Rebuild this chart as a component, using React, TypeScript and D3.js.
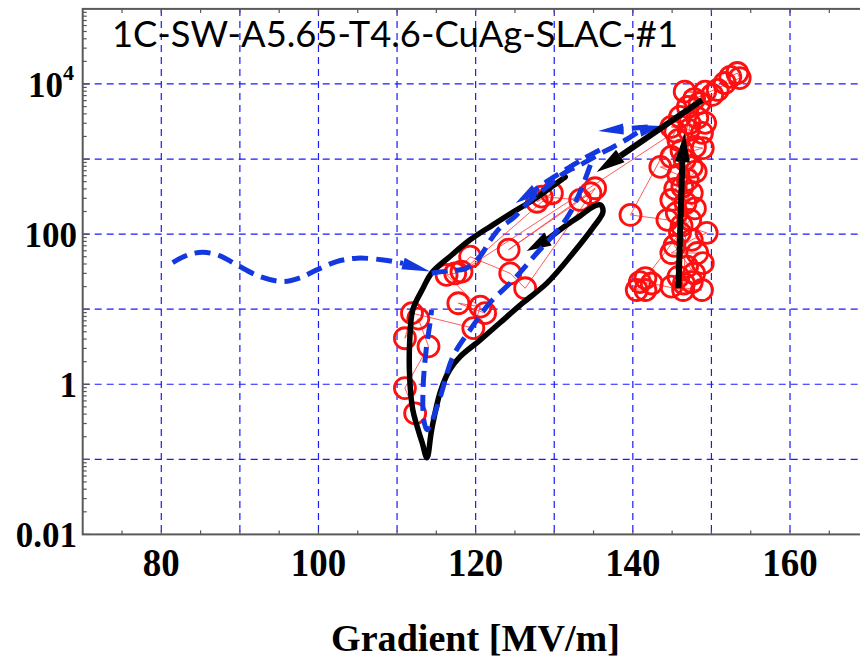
import React from 'react';
import * as d3 from 'd3';

const W = 860;
const H = 663;

const titleText = '1C-SW-A5.65-T4.6-CuAg-SLAC-#1';
const xAxisTitle = 'Gradient [MV/m]';
const xTickLabels = [80, 100, 120, 140, 160];
const xGridValues = [80, 90, 100, 110, 120, 130, 140, 150, 160, 170];
const xMinorTicks = [75, 85, 95, 105, 115, 125, 135, 145, 155, 165];
const yGridValues = [0.1, 1, 10, 100, 1000, 10000];
const yDecades = [0.01, 0.1, 1, 10, 100, 1000, 10000];
const yTickLabels: { v: number; base: string; sup?: string }[] = [
  { v: 10000, base: '10', sup: '4' },
  { v: 100, base: '100' },
  { v: 1, base: '1' },
  { v: 0.01, base: '0.01' },
];

// measured breakdown-rate points (gradient MV/m, rate)
const measured: [number, number][] = [
  [112.3, 0.41], [111.0, 0.89], [114.0, 3.2], [112.7, 7.5], [111.0, 4.1], [111.9, 8.85],
  [119.7, 5.6], [120.6, 10.8], [117.8, 12], [121.2, 8.85], [116.3, 28.6], [117.4, 30],
  [119.3, 50], [124.4, 30], [126.3, 19], [135.2, 408], [124.2, 62], [134.6, 350],
  [133.3, 285], [128.4, 316], [127.8, 270], [129.7, 350], [118.2, 31.6], [145.4, 2320],
  [139.7, 180], [144.4, 155], [149.4, 104], [147.5, 84], [144.9, 56], [148.2, 56],
  [146.9, 37], [148.9, 41], [145.8, 27], [147.5, 23], [144.9, 20], [148.8, 18],
  [146.4, 18], [142.4, 22], [140.9, 23], [141.6, 18], [140.5, 18], [141.6, 26],
  [146.0, 104], [147.3, 155], [144.9, 285], [146.7, 260], [145.6, 191], [147.5, 354],
  [146.3, 425], [147.0, 527], [145.8, 614], [143.5, 785], [147.5, 785], [146.6, 973],
  [144.9, 1070], [148.9, 1400], [147.9, 1450], [145.8, 1800], [148.8, 2230], [147.1, 2440],
  [144.9, 2680], [149.2, 3030], [148.2, 3530], [146.0, 3640], [147.0, 4940], [148.5, 5580],
  [149.2, 7900], [146.6, 7900], [150.1, 7140], [150.8, 8320], [151.7, 10300], [152.4, 12400],
  [153.3, 14000], [153.6, 12000], [147.8, 6300], [146.2, 1300], [148.0, 680], [145.4, 400],
  [147.9, 220], [146.2, 130], [145.3, 70], [147.8, 30], [146.5, 22], [147.2, 3000],
];

// black solid loop (ends in an arrow)
const blackLoop: [number, number][] = [
  [131.4, 578], [129.1, 388], [127.3, 285], [124.8, 198], [122.2, 133], [119.3, 84],
  [116.7, 50], [114.4, 30.4], [113.2, 18.1], [112.0, 9.8], [111.6, 3.56], [111.6, 1.26],
  [112.0, 0.456], [113.2, 0.166], [113.8, 0.105], [114.4, 0.247], [115.5, 0.79],
  [116.7, 1.56], [118.0, 2.32], [120.6, 3.9], [123.1, 6.6], [126.0, 12.1], [129.1, 22.4],
  [132.4, 56], [134.9, 121], [136.2, 198], [135.9, 245], [134.9, 230], [133.3, 175],
  [131.4, 128], [129.2, 86],
];
const blackLoopTip: [number, number] = [126.5, 59.7];

// black straight arrows [start, base, tip]
const blackArrowDiag: [number, number][] = [[148.8, 6120], [138.4, 1100], [135.4, 673]];
const blackArrowUp: [number, number][] = [[145.8, 19.0], [146.3, 915], [146.6, 2205]];

// blue dashed model curves
const blueWave: [number, number][] = [
  [81.45, 41.8], [83.4, 52.9], [85.35, 57.4], [87.47, 51.3], [89.6, 38.9], [92.56, 27.2],
  [95.53, 23.3], [97.65, 26.1], [99.78, 33.4], [102.3, 43.0], [104.9, 47.8], [108.25, 45.3],
  [110.76, 40.7],
];
const blueWaveTip: [number, number] = [114.2, 31.7];

const blueUp: [number, number][] = [
  [114.4, 30.4], [116.7, 32.4], [118.9, 35.5], [120.6, 51.3], [121.8, 81], [123.1, 121],
  [124.8, 164], [126.9, 277], [129.1, 425], [131.1, 634], [133.3, 834], [135.8, 1170],
  [137.5, 1450], [139.3, 1850], [140.9, 2370],
];
const blueUpTip: [number, number] = [143.6, 2760];

const blueBack: [number, number][] = [[141.9, 2680], [138.8, 2520]];
const blueBackTip: [number, number] = [135.6, 2370];

const blueReturn: [number, number][] = [
  [135.8, 1320], [133.9, 1035], [131.4, 716], [128.8, 481], [127.6, 388],
];
const blueReturnTip: [number, number] = [125.1, 260];

const blueDown: [number, number][] = [
  [134.6, 834], [133.9, 527], [133.0, 313], [132.0, 191], [130.7, 121], [127.8, 56],
  [124.8, 24.5], [121.8, 12.1], [119.3, 5.3], [117.1, 2.32], [115.5, 0.68], [114.3, 0.297],
  [113.8, 0.247], [113.4, 0.336], [113.3, 0.84], [113.7, 2.87], [114.2, 6.6], [114.4, 9.8],
];

const x = d3.scaleLinear().domain([70, 170]).range([82.7, 868.6]);
const y = d3.scaleLog().domain([0.01, 1e5]).range([534.4, 8.9]);

const smooth = d3
  .line<[number, number]>()
  .x((d) => x(d[0]))
  .y((d) => y(d[1]))
  .curve(d3.curveCatmullRom.alpha(0.5));
const straight = d3
  .line<[number, number]>()
  .x((d) => x(d[0]))
  .y((d) => y(d[1]));

function head(base: [number, number], tip: [number, number], w: number): string {
  const bx = x(base[0]);
  const by = y(base[1]);
  const tx = x(tip[0]);
  const ty = y(tip[1]);
  const dx = tx - bx;
  const dy = ty - by;
  const L = Math.hypot(dx, dy) || 1;
  const nx = -dy / L;
  const ny = dx / L;
  return `M${tx},${ty}L${bx + (nx * w) / 2},${by + (ny * w) / 2}L${bx - (nx * w) / 2},${by - (ny * w) / 2}Z`;
}

const BLUE = '#1438e0';
const RED = '#ff1010';

export default function App() {
  const left = x(70);
  const right = x(170);
  const top = y(1e5);
  const bottom = y(0.01);
  const minorY: number[] = [];
  yDecades.forEach((d) => {
    for (let k = 2; k <= 9; k++) minorY.push(d * k);
  });
  const dashBlue = '16,8';
  return (
    <svg
      width={W}
      height={H}
      style={{ position: 'absolute', left: 0, top: 0, background: '#fff' }}
      xmlns="http://www.w3.org/2000/svg"
    >
      <rect x={0} y={0} width={W} height={H} fill="#fff" />
      {/* grid */}
      <g stroke="#1a1aff" strokeWidth={1.2} strokeDasharray="7,5" fill="none">
        {xGridValues.map((v) => (
          <line key={'gx' + v} x1={x(v)} x2={x(v)} y1={top} y2={bottom} />
        ))}
        {yGridValues.map((v) => (
          <line key={'gy' + v} x1={left} x2={right} y1={y(v)} y2={y(v)} />
        ))}
      </g>
      {/* ticks */}
      <g stroke="#555" strokeWidth={1.2}>
        {[...xMinorTicks, ...xGridValues].map((v) => (
          <g key={'tx' + v}>
            <line x1={x(v)} x2={x(v)} y1={bottom} y2={bottom - 4} />
            <line x1={x(v)} x2={x(v)} y1={top} y2={top + 4} />
          </g>
        ))}
        {minorY.map((v, i) => (
          <line key={'my' + i} x1={left} x2={left + 4} y1={y(v)} y2={y(v)} />
        ))}
        {yDecades.map((v) => (
          <line key={'My' + v} x1={left} x2={left + 7} y1={y(v)} y2={y(v)} />
        ))}
      </g>
      {/* frame */}
      <rect x={left} y={top} width={right - left} height={bottom - top} fill="none" stroke="#5a5a5a" strokeWidth={2} />

      {/* measured data */}
      <path d={straight(measured) || ''} fill="none" stroke="#ff4040" strokeWidth={1} opacity={0.85} />
      <g fill="none" stroke={RED} strokeWidth={2.8}>
        {measured.map((d, i) => (
          <circle key={'c' + i} cx={x(d[0])} cy={y(d[1])} r={10.5} />
        ))}
      </g>

      {/* black loop */}
      <path d={smooth(blackLoop) || ''} fill="none" stroke="#000" strokeWidth={5.5} strokeLinejoin="round" strokeLinecap="round" />
      <path d={head(blackLoop[blackLoop.length - 1], blackLoopTip, 15)} fill="#000" />

      {/* blue dashed model */}
      <g fill="none" stroke={BLUE} strokeWidth={5} strokeDasharray={dashBlue}>
        <path d={smooth(blueWave) || ''} />
        <path d={smooth(blueUp) || ''} />
        <path d={smooth(blueBack) || ''} />
        <path d={smooth(blueReturn) || ''} />
        <path d={smooth(blueDown) || ''} />
      </g>
      <g fill={BLUE}>
        <path d={head(blueWave[blueWave.length - 1], blueWaveTip, 12)} />
        <path d={head(blueUp[blueUp.length - 1], blueUpTip, 12)} />
        <path d={head(blueBack[blueBack.length - 1], blueBackTip, 11)} />
        <path d={head(blueReturn[blueReturn.length - 1], blueReturnTip, 12)} />
      </g>

      {/* black straight arrows */}
      {[blackArrowDiag, blackArrowUp].map((a, i) => (
        <g key={'ba' + i}>
          <path d={straight([a[0], a[1]]) || ''} stroke="#000" strokeWidth={6} fill="none" />
          <path d={head(a[1], a[2], 15)} fill="#000" />
        </g>
      ))}

      {/* title */}
      <text
        x={112}
        y={47}
        fontFamily="Lato, 'Open Sans', sans-serif"
        fontSize={36}
        textLength={566}
        lengthAdjust="spacingAndGlyphs"
        fill="#000"
      >
        {titleText}
      </text>

      {/* y tick labels */}
      <g fontFamily="'Liberation Serif', 'Times New Roman', serif" fontWeight="bold" fill="#000">
        {yTickLabels.map((t) =>
          t.sup ? (
            <g key={'yl' + t.v}>
              <text x={63} y={y(t.v) + 13} fontSize={35} textAnchor="end">
                {t.base}
              </text>
              <text x={63} y={y(t.v) - 4} fontSize={22}>
                {t.sup}
              </text>
            </g>
          ) : (
            <text key={'yl' + t.v} x={77} y={y(t.v) + 13} fontSize={35} textAnchor="end">
              {t.base}
            </text>
          )
        )}
        {xTickLabels.map((v) => (
          <text
            key={'xl' + v}
            transform={`translate(${x(v)},576) scale(0.9,1)`}
            fontSize={41}
            textAnchor="middle"
          >
            {v}
          </text>
        ))}
        <text x={331} y={651} fontSize={38} textLength={289} lengthAdjust="spacingAndGlyphs">
          {xAxisTitle}
        </text>
      </g>
    </svg>
  );
}
